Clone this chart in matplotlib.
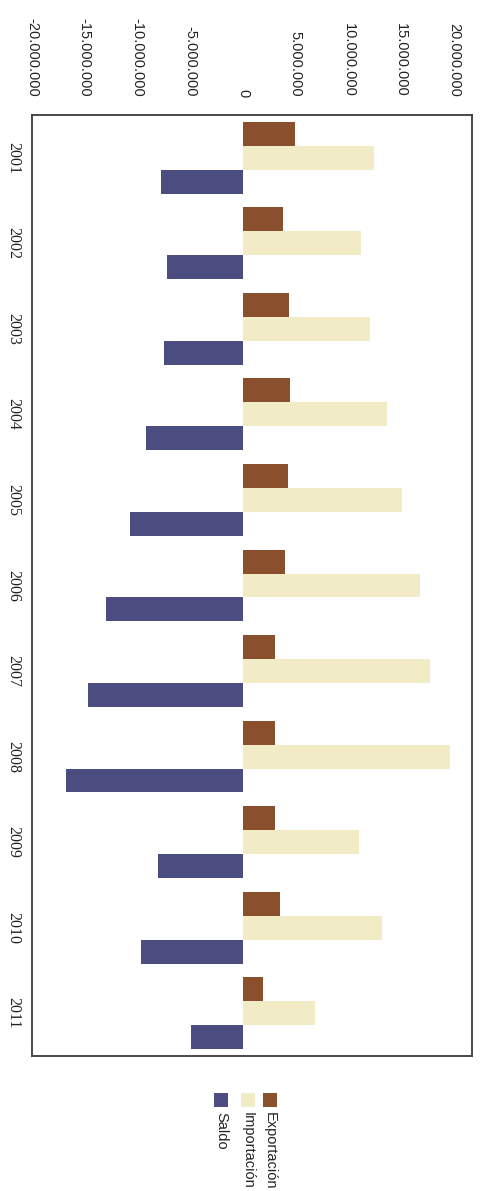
import numpy as np
import matplotlib
matplotlib.use("Agg")
import matplotlib.pyplot as plt
from matplotlib.ticker import FuncFormatter
from matplotlib.patches import Rectangle

# Comercio exterior por año (valores en unidades monetarias)
years = ["2001", "2002", "2003", "2004", "2005", "2006",
         "2007", "2008", "2009", "2010", "2011"]
exportacion = [4.9e6, 3.8e6, 4.35e6, 4.45e6, 4.25e6, 4.0e6,
               3.0e6, 3.0e6, 3.0e6, 3.55e6, 1.9e6]
importacion = [12.45e6, 11.2e6, 12.0e6, 13.65e6, 15.1e6, 16.8e6,
               17.75e6, 19.65e6, 10.95e6, 13.2e6, 6.8e6]
saldo = [-7.8e6, -7.2e6, -7.45e6, -9.15e6, -10.75e6, -12.95e6,
         -14.7e6, -16.75e6, -8.1e6, -9.65e6, -4.9e6]

series_labels = ["Exportación", "Importación", "Saldo"]
series_colors = ["#8a4f2c", "#f1ecc6", "#4b4c80"]
value_ticks = np.arange(-20e6, 20e6 + 1, 5e6)

sans = ["Liberation Sans", "DejaVu Sans"]
serif = ["Liberation Serif", "DejaVu Serif"]

fig = plt.figure(figsize=(4.85, 11.91), dpi=100)
ax = fig.add_axes([0.066, 0.1134, 0.907, 0.790])

pos = np.arange(len(years))
bar_h = 0.28
for offset, vals, col in zip([-bar_h, 0.0, bar_h],
                             [exportacion, importacion, saldo],
                             series_colors):
    ax.barh(pos + offset, vals, height=bar_h, color=col, edgecolor="none")

ax.set_ylim(len(years) - 0.5, -0.5)
ax.set_xlim(-20e6, 21.7e6)

# value axis along the top, labels read top-to-bottom
ax.xaxis.tick_top()
ax.set_xticks(value_ticks)
ax.xaxis.set_major_formatter(
    FuncFormatter(lambda v, _: f"{v:,.0f}".replace(",", ".")))
ax.tick_params(axis="x", length=0, pad=13)
for lbl in ax.get_xticklabels():
    lbl.set_rotation(-90)
    lbl.set_fontfamily(sans)
    lbl.set_fontsize(10.5)
    lbl.set_color("#222222")

ax.set_yticks(pos)
ax.set_yticklabels(years)
ax.tick_params(axis="y", length=0, pad=8)
for lbl in ax.get_yticklabels():
    lbl.set_rotation(-90)
    lbl.set_va("center")
    lbl.set_fontfamily(serif)
    lbl.set_fontsize(11.5)
    lbl.set_color("#222222")

for sp in ax.spines.values():
    sp.set_color("#3a3a3a")
    sp.set_linewidth(1.3)

# legend: swatches with rotated captions below the plot
W, H = fig.get_size_inches() * fig.dpi
legend_x = [270, 248, 221]
for x, lab, col in zip(legend_x, series_labels, series_colors):
    fig.patches.append(Rectangle(((x - 7) / W, (H - 1107) / H), 14 / W, 14 / H,
                                 transform=fig.transFigure, facecolor=col,
                                 edgecolor="none"))
    fig.text(x / W, (H - 1112) / H, lab, rotation=-90, ha="center", va="top",
             fontfamily=sans, fontsize=10.5, color="#222222")

fig.savefig("out.png", dpi=100)
